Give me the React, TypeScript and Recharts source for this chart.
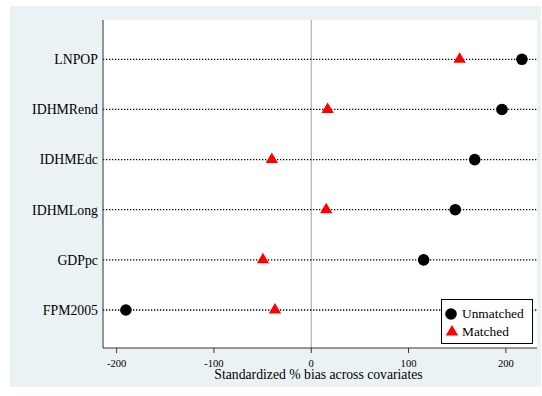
import {
  ScatterChart,
  Scatter,
  XAxis,
  YAxis,
  CartesianGrid,
  ReferenceLine,
  Legend,
} from "recharts";

const covariates = ["LNPOP", "IDHMRend", "IDHMEdc", "IDHMLong", "GDPpc", "FPM2005"];
const unmatched = [216.5, 196, 168, 148, 115.5, -190.5];
const matched = [152.5, 16.8, -40.5, 15.4, -49.6, -37.3];
const xTicks = [-200, -100, 0, 100, 200];

const rowTicks = covariates.map((_, i) => i + 1);
const unmatchedPts = covariates.map((name, i) => ({ name, x: unmatched[i], y: i + 1 }));
const matchedPts = covariates.map((name, i) => ({ name, x: matched[i], y: i + 1 }));

const FONT = "Liberation Serif";

const Dot = (props: any) => <circle cx={props.cx} cy={props.cy} r={5.8} fill="#000" />;

// triangle centred on its centroid
const Tri = (props: any) => {
  const { cx, cy } = props;
  return (
    <polygon
      points={`${cx},${cy - 7} ${cx - 6.2},${cy + 3.5} ${cx + 6.2},${cy + 3.5}`}
      fill="#ff0000"
    />
  );
};

function LegendBox() {
  const row = (top: number, icon: any, label: string) => (
    <div style={{ position: "absolute", left: 0, top, height: 18, width: "100%" }}>
      <svg width={16} height={18} style={{ position: "absolute", left: 0.5, top: 0 }}>
        {icon}
      </svg>
      <span
        style={{
          position: "absolute",
          left: 20,
          top: 0,
          lineHeight: "18px",
          fontSize: 13.4,
          fontFamily: FONT,
          color: "#000",
          whiteSpace: "nowrap",
        }}
      >
        {label}
      </span>
    </div>
  );
  return (
    <div
      style={{
        position: "relative",
        width: 92,
        height: 45,
        boxSizing: "border-box",
        border: "1px solid #000",
        background: "#fff",
      }}
    >
      {row(4.5, <circle cx={8} cy={9} r={5.8} fill="#000" />, "Unmatched")}
      {row(23, <polygon points="9,2 2.8,12.5 15.2,12.5" fill="#ff0000" />, "Matched")}
    </div>
  );
}

export default function App() {
  return (
    <div
      style={{
        position: "absolute",
        left: 0,
        top: 0,
        width: 542,
        height: 396,
        background: "#fff",
        fontFamily: FONT,
      }}
    >
      <div
        style={{ position: "absolute", left: 10, top: 6, width: 531, height: 381, background: "#eaf2f3" }}
      />
      <div style={{ position: "absolute", left: 0, top: 0 }}>
        <ScatterChart
          width={542}
          height={396}
          margin={{ top: 20, right: 5, bottom: 0, left: 0 }}
          style={{ fontFamily: FONT }}
        >
          <CartesianGrid horizontal={false} vertical={false} fill="#fff" />
          <XAxis
            type="number"
            dataKey="x"
            domain={[-214, 232]}
            ticks={xTicks}
            allowDataOverflow
            height={48}
            stroke="#333"
            tickSize={5}
            tickMargin={6}
            tick={{ fontSize: 10.6, fontFamily: FONT, fill: "#000" }}
            label={{
              value: "Standardized % bias across covariates",
              position: "insideBottom",
              offset: 17,
              dx: -1.5,
              style: { fontSize: 13.7, fontFamily: FONT, fill: "#000" },
            }}
          />
          <YAxis
            type="number"
            dataKey="y"
            domain={[0.216, 6.758]}
            reversed
            ticks={rowTicks}
            tickFormatter={(v: number) => covariates[v - 1]}
            width={103}
            stroke="#333"
            tickLine={false}
            tickSize={0}
            tickMargin={5}
            tick={{ fontSize: 13.8, fontFamily: FONT, fill: "#000" }}
          />
          <ReferenceLine x={0} stroke="#a0a0a0" strokeWidth={1} />
          {rowTicks.map((r) => (
            <ReferenceLine key={r} y={r} stroke="#000" strokeWidth={1.3} strokeDasharray="1.3 1.7" />
          ))}
          <Scatter name="Unmatched" data={unmatchedPts} shape={Dot} isAnimationActive={false} />
          <Scatter name="Matched" data={matchedPts} shape={Tri} isAnimationActive={false} />
          <Legend
            layout="horizontal"
            verticalAlign="middle"
            align="center"
            content={() => <LegendBox />}
            wrapperStyle={{ position: "absolute", left: 441, top: 299, width: 92, height: 45 }}
          />
        </ScatterChart>
      </div>
    </div>
  );
}
